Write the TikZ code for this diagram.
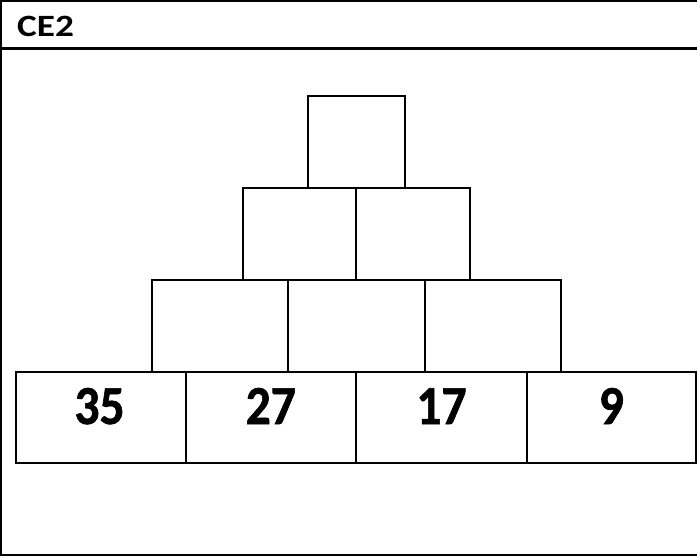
\documentclass[tikz,border=0pt]{standalone}
\usepackage{fontspec}
\usepackage{graphicx}
\setmainfont{Carlito}
\newfontfamily\numfont[FakeBold=1.2]{Carlito Bold}
\begin{document}
\begin{tikzpicture}[x=1pt,y=-1pt,
  cell/.style={draw=black,line width=1.8pt},
  frame/.style={draw=black,line width=2.2pt},
  num/.style={font=\numfont\fontsize{55}{55}\selectfont,anchor=base,inner sep=0pt}]
\useasboundingbox (0,0) rectangle (697,557);
% frame
\draw[frame] (1,1) -- (697,1);
\draw[frame] (1,0) -- (1,556);
\draw[frame] (0,555) -- (697,555);
\draw[frame] (1,48.5) -- (697,48.5);
\node[font=\bfseries\fontsize{31}{31}\selectfont,anchor=base west,inner sep=0pt] (title) at (17,36.7) {\scalebox{1.2}[1]{CE2}};
% top
\draw[cell] (307.7,95.7) rectangle (404.7,187.7);
% row 2
\draw[cell] (243.3,187.7) rectangle (356,280);
\draw[cell] (356,187.7) rectangle (469.7,280);
% row 3
\draw[cell] (151.7,280) rectangle (287.7,371.7);
\draw[cell] (287.7,280) rectangle (425,371.7);
\draw[cell] (425,280) rectangle (561,371.7);
% row 4
\draw[cell] (15.7,371.7) rectangle (185.7,463.3);
\draw[cell] (185.7,371.7) rectangle (356,463.3);
\draw[cell] (356,371.7) rectangle (527,463.3);
\draw[cell] (527,371.7) rectangle (695.7,463.3);
\node[num] (a) at (99.5,424) {\scalebox{0.9}[1]{35}};
\node[num] (b) at (270.8,424) {\scalebox{0.9}[1]{27}};
\node[num] (c) at (441.5,424) {\scalebox{0.9}[1]{17}};
\node[num] (d) at (611.3,424) {\scalebox{0.9}[1]{9}};
\end{tikzpicture}
\end{document}
